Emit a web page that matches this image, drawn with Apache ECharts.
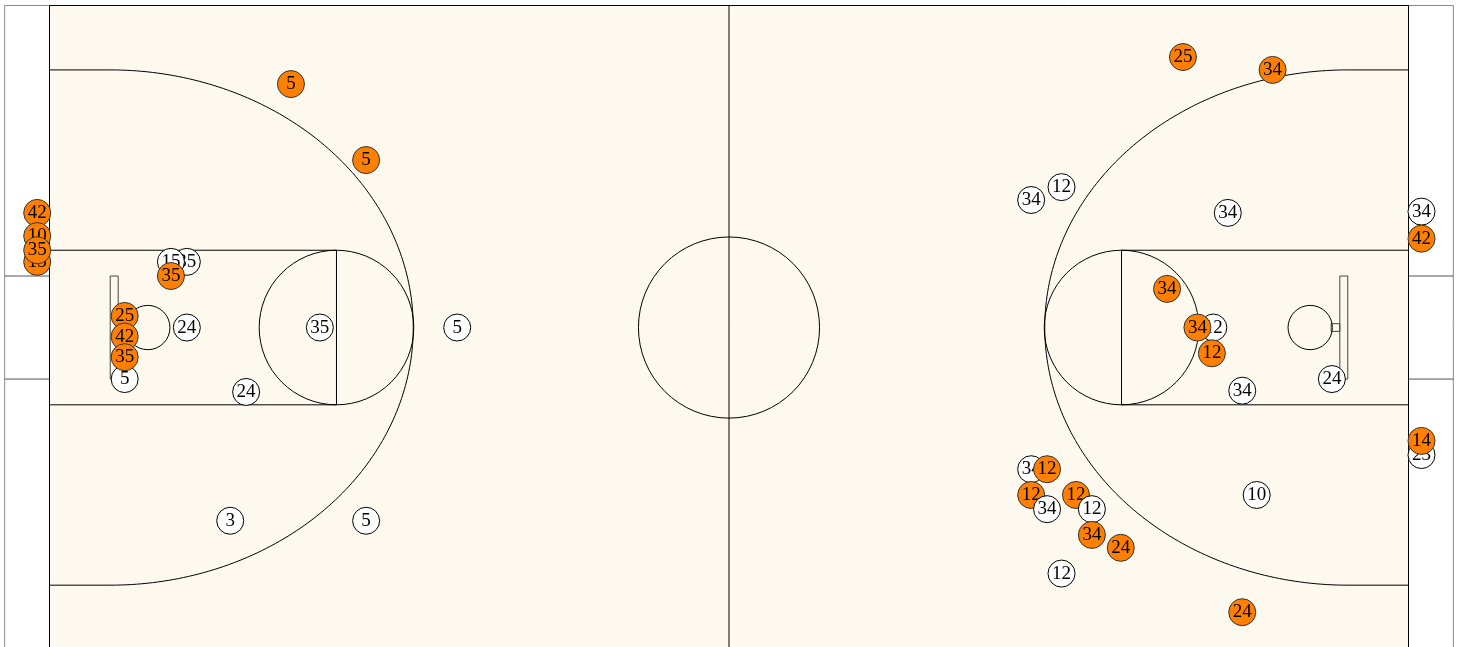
<!DOCTYPE html>
<html>
<head>
<meta charset="utf-8">
<script src="https://cdn.jsdelivr.net/npm/echarts@6/dist/echarts.min.js"></script>
<style>
html,body{margin:0;padding:0;background:#ffffff;}
#chart{width:1458px;height:647px;}
</style>
</head>
<body>
<div id="chart"></div>
<script>
// Shot chart data: x = feet along court length (0..94), y = feet across court (0 at top, 50 at bottom)
const shotX = [-0.85, -0.85, -0.85, -0.85, 9.5, 8.4, 8.4, 5.2, 5.2, 5.2, 5.2, 9.5, 18.7, 28.2, 13.6, 12.5, 21.9, 16.7, 21.9,
  78.4, 84.6, 67.9, 70.0, 81.5, 94.9, 94.9, 77.3, 80.5, 79.4, 80.4, 82.5, 88.7, 94.9, 94.9, 83.5,
  67.9, 69.0, 67.9, 69.0, 71.0, 72.1, 72.1, 74.1, 70.0, 82.5];
const shotY = [16.1, 17.9, 19.9, 19.0, 19.9, 19.9, 21.0, 29.0, 24.1, 25.7, 27.3, 25.0, 25.0, 25.0, 30.0, 40.0, 40.0, 6.1, 12.0,
  4.0, 5.0, 15.1, 14.1, 16.1, 16.0, 18.1, 22.0, 25.0, 25.0, 27.0, 29.9, 29.0, 34.9, 33.8, 38.0,
  36.0, 36.0, 38.0, 39.1, 38.0, 39.1, 41.1, 42.1, 44.1, 47.1];
const shotPlayer = ['42', '10', '15', '35', '35', '15', '35', '5', '25', '42', '35', '24', '35', '5', '24', '3', '5', '5', '5',
  '25', '34', '34', '12', '34', '34', '42', '34', '12', '34', '12', '34', '24', '23', '14', '10',
  '34', '12', '12', '34', '12', '12', '34', '24', '12', '24'];
const shotMade = [1, 1, 1, 1, 0, 0, 1, 0, 1, 1, 1, 0, 0, 0, 0, 0, 0, 1, 1,
  1, 1, 0, 0, 0, 0, 1, 1, 0, 1, 1, 0, 0, 0, 1, 0,
  0, 1, 1, 0, 1, 0, 1, 1, 0, 1];

// Court dimensions (feet)
const COURT_LEN = 94, COURT_WID = 50;
const OUT_MARGIN = 3.1;
const Y_VISIBLE = 49.8; // the bottom edge of the court is just below the picture

const chart = echarts.init(document.getElementById('chart'), null, {renderer: 'canvas'});

function renderCourt(params, api) {
  const P = (x, y) => api.coord([x, y]);
  const ry = api.size([0, 1])[1];
  const black = '#000000';
  const seg = (pts, stroke) => ({
    type: 'polyline',
    shape: {points: pts.map(p => P(p[0], p[1]))},
    style: {stroke: stroke || black, lineWidth: 1, fill: null}
  });
  const rect = (x0, y0, x1, y1, fill, stroke) => ({
    type: 'polygon',
    shape: {points: [P(x0, y0), P(x1, y0), P(x1, y1), P(x0, y1)]},
    style: {fill: fill, stroke: stroke || black, lineWidth: 1}
  });
  const circle = (cx, cy, rFt) => {
    const c = P(cx, cy);
    return {type: 'circle', shape: {cx: c[0], cy: c[1], r: rFt * ry}, style: {fill: null, stroke: black, lineWidth: 1}};
  };
  const arc = (cx, a, b, dir) => {
    const pts = [];
    for (let i = 0; i <= 180; i++) {
      const t = (-90 + i) * Math.PI / 180;
      pts.push(P(cx + dir * a * Math.cos(t), 25 + b * Math.sin(t)));
    }
    return {type: 'polyline', shape: {points: pts}, style: {stroke: black, lineWidth: 1, fill: null}};
  };
  const L = COURT_LEN, W = COURT_WID, M = OUT_MARGIN;
  const ft = 19.85;       // free throw line
  const bbX = 4.2, bbW = 0.55; // backboard
  const hoopX = 6.8;
  const tpA = 20.96, tpB = 20;
  const children = [
    rect(-M, 0, L + M, W + 2, '#ffffff', '#8a8a8a'),
    seg([[-M, 21], [0, 21]], '#555'), seg([[-M, 29], [0, 29]], '#555'),
    seg([[L, 21], [L + M, 21]], '#555'), seg([[L, 29], [L + M, 29]], '#555'),
    rect(0, 0, L, W, '#fdf9ee'),
    seg([[L / 2, 0], [L / 2, W]]),
    circle(L / 2, 25, 7.03),
    // left end
    rect(0, 19, ft, 31, null),
    circle(ft, 25, 6.0),
    seg([[0, 5], [bbX, 5]]), seg([[0, 45], [bbX, 45]]),
    arc(bbX, tpA, tpB, 1),
    rect(bbX, 21, bbX + bbW, 29, null, '#444'),
    rect(bbX + bbW, 24.7, bbX + bbW + 0.6, 25.3, null, '#444'),
    circle(hoopX, 25, 1.72),
    // right end
    rect(L - ft, 19, L, 31, null),
    circle(L - ft, 25, 6.0),
    seg([[L, 5], [L - bbX, 5]]), seg([[L, 45], [L - bbX, 45]]),
    arc(L - bbX, tpA, tpB, -1),
    rect(L - bbX - bbW, 21, L - bbX, 29, null, '#444'),
    rect(L - bbX - bbW - 0.6, 24.7, L - bbX - bbW, 25.3, null, '#444'),
    circle(L - hoopX, 25, 1.72)
  ];
  return {type: 'group', children: children};
}

function renderShot(params, api) {
  const i = params.dataIndex;
  const c = api.coord([api.value(0), api.value(1)]);
  const made = shotMade[i] === 1;
  return {
    type: 'circle',
    z2: i * 3,
    shape: {cx: c[0], cy: c[1], r: 13.5},
    style: {
      fill: made ? '#ff8000' : '#ffffff',
      stroke: made ? '#333333' : '#000000',
      lineWidth: 1
    },
    textContent: {
      z2: i * 3 + 1,
      style: {
        text: shotPlayer[i],
        fill: '#000000',
        fontSize: 19,
        fontFamily: '"Liberation Serif", "Times New Roman", serif'
      }
    },
    textConfig: {position: 'inside'}
  };
}

chart.setOption({
  animation: false,
  backgroundColor: '#ffffff',
  grid: {left: 49.5, top: 5.5, width: 1359, height: 641.5, show: false},
  xAxis: {type: 'value', min: 0, max: COURT_LEN, show: false},
  yAxis: {type: 'value', min: 0, max: Y_VISIBLE, inverse: true, show: false},
  series: [
    {
      type: 'custom',
      clip: false,
      silent: true,
      z: 1,
      renderItem: renderCourt,
      data: [[0, 0]]
    },
    {
      type: 'custom',
      clip: false,
      z: 5,
      renderItem: renderShot,
      encode: {x: 0, y: 1},
      data: shotX.map((x, i) => [x, shotY[i]])
    }
  ]
});
</script>
</body>
</html>
